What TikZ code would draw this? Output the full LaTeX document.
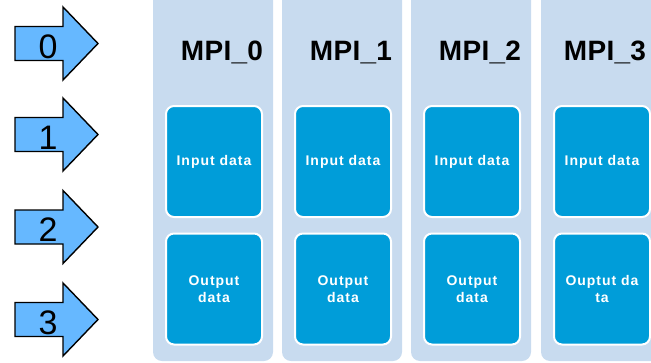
\documentclass[tikz,border=0pt]{standalone}
\usepackage{fontspec}
\setmainfont{Liberation Sans}
\newfontfamily\titlefont[LetterSpace=1]{Liberation Sans}
\newfontfamily\cellfont[LetterSpace=7]{Liberation Sans}
\definecolor{colbg}{HTML}{C8DBEF}
\definecolor{cellbg}{HTML}{009DD9}
\definecolor{arrowbg}{HTML}{66B8FF}
\tikzset{
  colbox/.style={draw=none, fill=colbg, rounded corners=9pt, minimum width=120pt, minimum height=376pt, inner sep=0pt},
  cellbox/.style={draw=white, line width=2pt, fill=cellbg, rounded corners=8pt, minimum width=96pt, minimum height=111pt, inner sep=0pt,
    text=white, align=center, font=\cellfont\bfseries\fontsize{14}{17.5}\selectfont},
  title/.style={anchor=base, font=\titlefont\bfseries\fontsize{28}{30}\selectfont},
  blockarrow/.style={draw=black, line width=1.4pt, fill=arrowbg, line join=miter},
  digit/.style={anchor=base, font=\fontsize{34}{36}\selectfont}
}
\begin{document}
\begin{tikzpicture}[x=1pt, y=-1pt]
\useasboundingbox (0,0) rectangle (651,362);
\begin{scope}
\clip (0,0) rectangle (651,362);
% four process columns, each with an input and an output block
\foreach \i/\cx/\tx/\outtxt in {0/213/222/{Output\\data}, 1/342/351/{Output\\data}, 2/471/480/{Output\\data}, 3/601/605/{Ouptut da\\ta}} {
  \node[colbox] (col\i) at (\cx,173) {};
  \node[title] (mpi\i) at (\tx,60) {MPI\_\i};
  \node[cellbox] (in\i) at (\cx+1,161.5) {Input data};
  \node[cellbox] (out\i) at (\cx+1,289) {\outtxt};
}
\end{scope}
% numbered block arrows on the left
\foreach \k/\cy in {0/43.5, 1/134.5, 2/227, 3/319.5} {
  \draw[blockarrow] (15,\cy-17) -- (63,\cy-17) -- (63,\cy-36.5) -- (98,\cy)
    -- (63,\cy+36.5) -- (63,\cy+17) -- (15,\cy+17) -- cycle;
  \node[digit] (num\k) at (48,\cy+14.5) {\k};
}
\end{tikzpicture}
\end{document}
